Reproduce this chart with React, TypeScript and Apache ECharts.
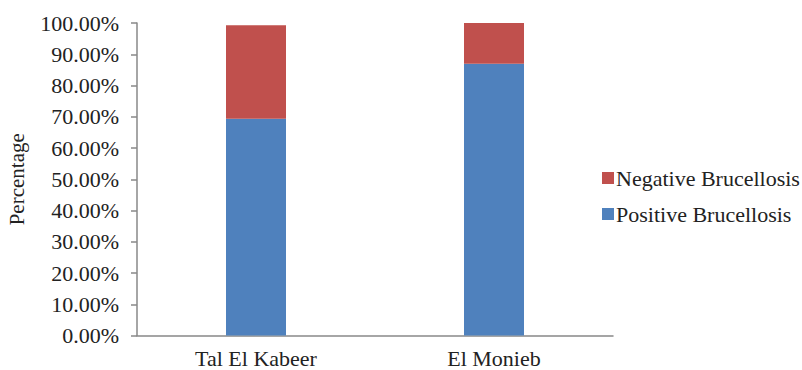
import React, { useEffect, useRef } from "react";
import * as echarts from "echarts";

const categories = ["Tal El Kabeer", "El Monieb"];
const positive = [69.4, 87.0];
const negative = [29.9, 13.0];
const yTicks = [0, 10, 20, 30, 40, 50, 60, 70, 80, 90, 100];

export default function App() {
  const ref = useRef<HTMLDivElement>(null);
  useEffect(() => {
    const chart = echarts.init(ref.current!, null, { renderer: "svg" });
    const font = "Liberation Serif";
    chart.setOption({
      animation: false,
      textStyle: { fontFamily: font },
      grid: { left: 137, right: 189, top: 23, bottom: 34.5, outerBoundsMode: "none", containLabel: false },
      legend: {
        orient: "vertical",
        left: 597,
        top: 162,
        itemWidth: 12,
        itemHeight: 12,
        itemGap: 14,
        icon: "rect",
        data: ["Negative Brucellosis", "Positive Brucellosis"],
        textStyle: { fontFamily: font, fontSize: 22, color: "#222", padding: [0, 0, 0, -3] },
      },
      xAxis: {
        type: "category",
        data: categories,
        axisLine: { lineStyle: { color: "#888", width: 1.5 } },
        axisTick: { show: false },
        axisLabel: { fontFamily: font, fontSize: 22, color: "#222", margin: 12 },
      },
      yAxis: {
        type: "value",
        min: 0,
        max: 100,
        interval: 10,
        name: "Percentage",
        nameLocation: "middle",
        nameGap: 110,
        nameRotate: 90,
        nameTextStyle: { fontFamily: font, fontSize: 21, color: "#222" },
        axisLine: { show: true, lineStyle: { color: "#888", width: 1.5 } },
        axisTick: { show: true, length: 6, lineStyle: { color: "#888", width: 1.5 } },
        splitLine: { show: false },
        axisLabel: {
          fontFamily: font,
          fontSize: 22,
          color: "#222",
          margin: 18,
          formatter: (v: number) => (yTicks.includes(v) ? v.toFixed(2) + "%" : ""),
        },
      },
      series: [
        {
          name: "Positive Brucellosis",
          type: "bar",
          stack: "total",
          data: positive,
          barWidth: 60,
          itemStyle: { color: "#4F81BD" },
        },
        {
          name: "Negative Brucellosis",
          type: "bar",
          stack: "total",
          data: negative,
          barWidth: 60,
          itemStyle: { color: "#C0504D" },
        },
      ],
    });
    return () => chart.dispose();
  }, []);
  return <div ref={ref} style={{ width: 802, height: 370, position: "absolute", left: 0, top: 0 }} />;
}
